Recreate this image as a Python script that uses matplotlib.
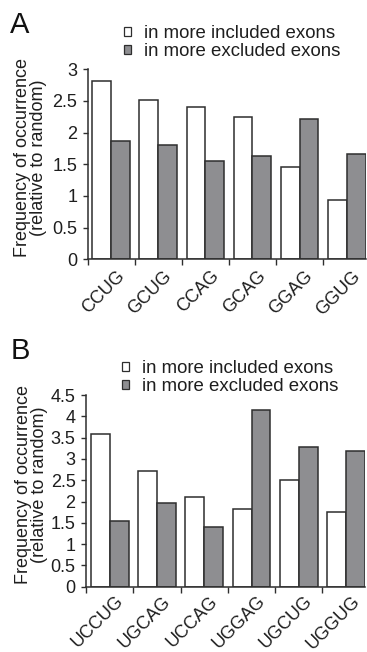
import matplotlib
matplotlib.use("Agg")
import matplotlib.pyplot as plt
import numpy as np

plt.rcParams['font.family'] = ['Liberation Sans', 'DejaVu Sans']

# panel A
motifs_a = ['CCUG', 'GCUG', 'CCAG', 'GCAG', 'GGAG', 'GGUG']
incl_a = [2.82, 2.51, 2.41, 2.25, 1.45, 0.94]
excl_a = [1.87, 1.80, 1.55, 1.63, 2.21, 1.66]
yticks_a = [0, 0.5, 1, 1.5, 2, 2.5, 3]

# panel B
motifs_b = ['UCCUG', 'UGCAG', 'UCCAG', 'UGGAG', 'UGCUG', 'UGGUG']
incl_b = [3.58, 2.72, 2.10, 1.82, 2.50, 1.75]
excl_b = [1.54, 1.97, 1.40, 4.15, 3.28, 3.18]
yticks_b = [0, 0.5, 1, 1.5, 2, 2.5, 3, 3.5, 4, 4.5]

labels = ['in more included exons', 'in more excluded exons']

W, H = 367, 652
fig = plt.figure(figsize=(W / 100, H / 100), dpi=100)

EDGE = '#2e2e2e'
GRAY = '#8e8e91'
TXT = '#1e1e1e'
FS = 13


def px_axes(left, right, top, bottom):
    return fig.add_axes([left / W, 1 - bottom / H, (right - left) / W, (bottom - top) / H])


def panel(ax, motifs, incl, excl, yticks, letter, letter_xy, leg_xy, ylab_xy, xpad):
    x = np.arange(len(motifs))
    h1 = ax.bar(x + 0.1, incl, width=0.4, align='edge', color='white',
                edgecolor=EDGE, linewidth=1.1, label=labels[0])
    h2 = ax.bar(x + 0.5, excl, width=0.4, align='edge', color=GRAY,
                edgecolor=EDGE, linewidth=1.1, label=labels[1])
    ax.set_xlim(0, len(motifs) - 0.1)
    ax.set_ylim(0, yticks[-1])
    ax.set_yticks(yticks)
    ax.set_yticklabels(['%g' % v for v in yticks])
    for s in ['top', 'right']:
        ax.spines[s].set_visible(False)
    for s in ['left', 'bottom']:
        ax.spines[s].set_color(EDGE)
        ax.spines[s].set_linewidth(1.1)
    ax.tick_params(axis='y', direction='out', length=3.5, width=1, color=EDGE,
                   labelsize=FS, labelcolor=TXT, pad=4)
    # boundary ticks; rotated labels end just right of each group centre
    ax.set_xticks(np.arange(len(motifs)), minor=True)
    ax.tick_params(axis='x', which='minor', direction='out', length=4, width=1, color=EDGE)
    ax.set_xticks(x + 0.8)
    ax.set_xticklabels(motifs, rotation=45, ha='right', va='baseline',
                       rotation_mode='anchor')
    ax.tick_params(axis='x', which='major', length=0, labelsize=FS,
                   labelcolor=TXT, pad=xpad)
    ax.set_ylabel('Frequency of occurrence\n(relative to random)', fontsize=FS,
                  color=TXT, linespacing=0.9)
    ax.yaxis.set_label_coords(ylab_xy[0], ylab_xy[1])
    fig.text(letter_xy[0] / W, 1 - letter_xy[1] / H, letter, fontsize=21,
             color='#111111', ha='left', va='top')
    leg = fig.legend(handles=[h1, h2], labels=labels, loc='upper left',
                     bbox_to_anchor=(leg_xy[0] / W, 1 - leg_xy[1] / H),
                     frameon=False, fontsize=13.4, handlelength=0.4,
                     handleheight=0.4, handletextpad=0.65, borderpad=0,
                     borderaxespad=0, labelspacing=0.05)
    for t in leg.get_texts():
        t.set_color(TXT)
    for p in leg.get_patches():
        p.set_linewidth(0.9)


ax_a = px_axes(87.7, 365.5, 69.3, 259.3)
panel(ax_a, motifs_a, incl_a, excl_a, yticks_a, 'A', (10, 11), (124, 25), (-0.146, 0.537), 12.5)

ax_b = px_axes(86, 365, 395, 586.7)
panel(ax_b, motifs_b, incl_b, excl_b, yticks_b, 'B', (11, 337), (122, 360), (-0.136, 0.531), 11)

fig.savefig('out.png', dpi=100)
